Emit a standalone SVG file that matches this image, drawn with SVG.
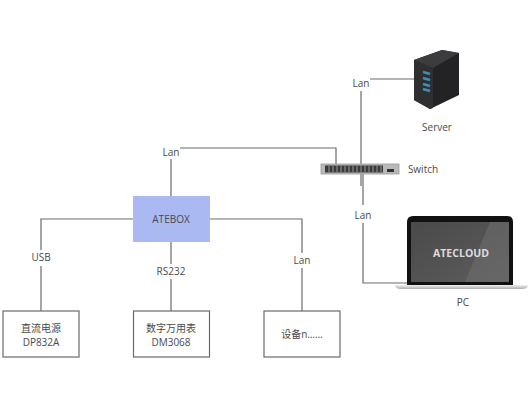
<svg xmlns="http://www.w3.org/2000/svg" width="532" height="416" viewBox="0 0 532 416">
<defs>
<linearGradient id="scr" x1="0" y1="0" x2="1" y2="1"><stop offset="0" stop-color="#4a4a4a"/><stop offset="1" stop-color="#5e5c5c"/></linearGradient>
<linearGradient id="base" x1="0" y1="0" x2="0" y2="1"><stop offset="0" stop-color="#f0f0f0"/><stop offset="1" stop-color="#aeaeae"/></linearGradient>
</defs>
<style>
text{font-family:"Open Sans","Noto Sans CJK SC",sans-serif;font-size:10px;fill:#4a4a4a;text-anchor:middle}
.c{fill:none;stroke:#6a6a6a;stroke-width:1.2}
.b{fill:#fff;stroke:#6a6a6a;stroke-width:1.2}
</style>
<rect width="532" height="416" fill="#fff"/>
<g id="connectors">
<path class="c" d="M370 79H414"/>
<path class="c" d="M361 91V186"/>
<path class="c" d="M363 174V205"/>
<path class="c" d="M363 223V283H408"/>
<path class="c" d="M180 148H336V165"/>
<path class="c" d="M171 159V196"/>
<path class="c" d="M133 219H41V250"/>
<path class="c" d="M41 266V311"/>
<path class="c" d="M171 242V264"/>
<path class="c" d="M171 279V311"/>
<path class="c" d="M210 219H302V253"/>
<path class="c" d="M302 268V311"/>
</g>
<g id="server">
<polygon points="414,60 442,50 459,53 459,95 430,109 414,100" fill="#232325"/>
<polygon points="414,60 433,68 433,108 430,109 414,100" fill="#2f2f31"/>
<polygon points="414,60 442,50 459,53 433,68" fill="#3c3c3e"/>
<path d="M423 72l7 2M423 78l7 2M423 84l7 2M423 89l7 2" stroke="#3f8fb5" stroke-width="2.400" fill="none"/>
<text x="437" y="131">Server</text>
</g>
<g id="switch">
<rect x="321" y="164" width="78" height="10" fill="#b9b9b9" stroke="#999" stroke-width=".8"/>
<rect x="325" y="165.500" width="58" height="7" fill="#3a3a3a"/>
<path d="M329 165.500v7M333 165.500v7M337 165.500v7M341 165.500v7M345 165.500v7M349 165.500v7M353 165.500v7M357 165.500v7M361 165.500v7M365 165.500v7M369 165.500v7M373 165.500v7M377 165.500v7M381 165.500v7" stroke="#999" stroke-width="1"/>
<rect x="387" y="169" width="7" height="3" fill="#333"/>
<text x="423" y="173">Switch</text>
</g>
<g id="pc">
<path d="M407 285V222q0-6 6-6H507q6 0 6 6V285Z" fill="#111"/>
<rect x="411" y="222" width="98" height="60" fill="url(#scr)"/>
<polygon points="490,222 509,222 509,282 465,282" fill="#777" opacity=".4"/>
<path d="M395 285H528q0 4-6 4H401q-6 0-6-4Z" fill="url(#base)"/>
<text x="461" y="257" style="font-size:10.500px;font-weight:700;fill:#dcdcdc">ATECLOUD</text>
<text x="463" y="306">PC</text>
</g>
<g id="atebox">
<rect x="133" y="196" width="77" height="46" fill="#abb9f3"/>
<text x="171" y="223">ATEBOX</text>
</g>
<g id="dev1">
<rect class="b" x="3" y="311" width="76" height="46"/>
<text x="41" y="332">直流电源</text>
<text x="41" y="346">DP832A</text>
</g>
<g id="dev2">
<rect class="b" x="133.500" y="311" width="76" height="46"/>
<text x="171" y="332">数字万用表</text>
<text x="171" y="346">DM3068</text>
</g>
<g id="dev3">
<rect class="b" x="264" y="311" width="76" height="46"/>
<text x="302" y="338">设备n……</text>
</g>
<g id="labels">
<text x="361" y="87">Lan</text>
<text x="171" y="156">Lan</text>
<text x="363" y="219">Lan</text>
<text x="41" y="261">USB</text>
<text x="171" y="275">RS232</text>
<text x="302" y="264">Lan</text>
</g>
</svg>
